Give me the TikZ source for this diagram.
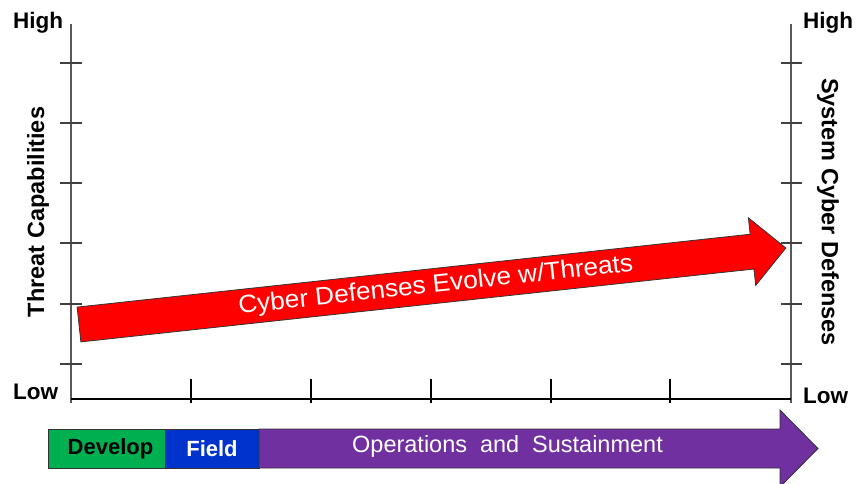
\documentclass[tikz,border=0pt]{standalone}
\usepackage{fontspec}
\setmainfont{Liberation Sans}
\definecolor{arrred}{RGB}{255,0,0}
\definecolor{devgreen}{RGB}{0,176,80}
\definecolor{fieldblue}{RGB}{0,51,204}
\definecolor{opspurple}{RGB}{112,48,160}
\begin{document}
\begin{tikzpicture}[x=1pt,y=-1pt,
  axisv/.style={draw=black!65, line width=1.3pt},
  axish/.style={draw=black, line width=1.2pt},
  tickv/.style={draw=black!75, line width=1.1pt},
  lbl/.style={font=\fontsize{22.5}{26}\selectfont\bfseries, inner sep=0pt},
  vlbl/.style={font=\fontsize{23.5}{26}\selectfont\bfseries, inner sep=0pt},
  outl/.style={draw=black!80, line width=0.8pt}]
\useasboundingbox (0,0) rectangle (856,484);
% axes
\coordinate (LT) at (71,24);
\coordinate (LB) at (71,403);
\coordinate (RT) at (791,24);
\coordinate (RB) at (791,403);
\coordinate (HL) at (71,399);
\coordinate (HR) at (791,399);
\draw[axisv] (LT) -- (LB);
\draw[axisv] (RT) -- (RB);
\draw[axish] (HL) -- (HR);
\foreach \yy in {63,123,183,243,304,364} {
  \draw[tickv] (60,\yy) -- (82,\yy);
  \draw[tickv] (781,\yy) -- (802,\yy);
}
\foreach \xx in {191,311,431,551,670} {
  \draw[axish] (\xx,379) -- (\xx,403);
}
% axis labels
\node[lbl, anchor=base west] (hl) at (13,29) {High};
\node[lbl, anchor=base west] (ll) at (13,399) {Low};
\node[lbl, anchor=base west] (hr) at (803,29) {High};
\node[lbl, anchor=base west] (lr) at (803,403) {Low};
\node[vlbl, rotate=90] (tc) at (38,212) {Threat Capabilities};
\node[vlbl, rotate=-90] (scd) at (828,212) {System Cyber Defenses};
% red arrow
\begin{scope}[shift={(79,324.5)}, rotate=6.18]
  \draw[outl, fill=arrred] (0,-17.5) -- (677,-17.5) -- (677,-34) -- (711,0)
    -- (677,34) -- (677,17.5) -- (0,17.5) -- cycle;
  \node[transform shape, xscale=1.05, text=white, font=\fontsize{25}{28}\selectfont, inner sep=0pt]
    (cde) at (359,0) {Cyber Defenses Evolve w/Threats};
\end{scope}
% bottom phase bar
\draw[outl, fill=devgreen] (48,429) rectangle (165,468);
\draw[outl, fill=fieldblue] (165,429) rectangle (259,468);
\draw[outl, fill=opspurple] (259,429) -- (780,429) -- (780,410) -- (818,448.5)
  -- (780,487) -- (780,468) -- (259,468) -- cycle;
\node[font=\fontsize{22}{24}\selectfont\bfseries, text=black] (dev) at (110.5,449) {Develop};
\node[font=\fontsize{22}{24}\selectfont\bfseries, text=white] (fld) at (212,449) {Field};
\node[font=\fontsize{23.5}{26}\selectfont, text=white, inner sep=0pt] (ops) at (507.5,446)
  {Operations\hspace{0.55em}and\hspace{0.55em}Sustainment};
\end{tikzpicture}
\end{document}
